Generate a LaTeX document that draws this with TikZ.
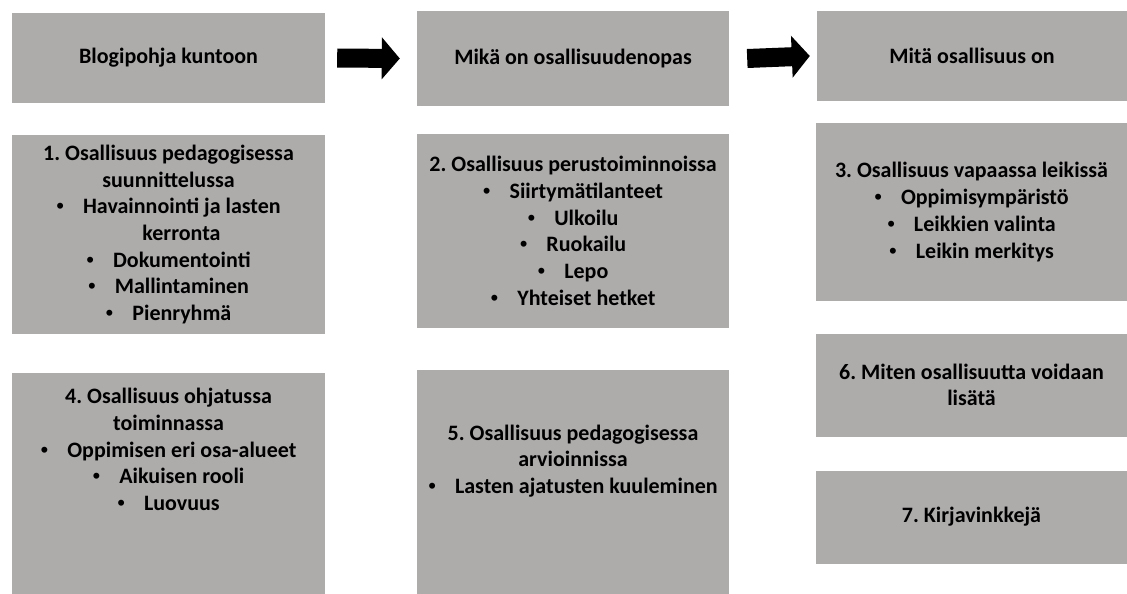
\documentclass[tikz,border=0pt]{standalone}
\usepackage{fontspec}
\setmainfont{Carlito}
\newfontfamily\bulletfont{Liberation Sans}
\usetikzlibrary{arrows.meta}
\definecolor{boxgray}{HTML}{AEABAB}
\frenchspacing
\begin{document}
\begin{tikzpicture}[x=1pt,y=-1pt,
  box/.style={fill=boxgray, draw=none, inner sep=0pt, align=center, text=black,
    font=\bfseries\fontsize{22}{26.7}\selectfont},
  txt/.style={inner sep=0pt, align=center, text=black,
    font=\bfseries\fontsize{22}{26.7}\selectfont},
  bigarrow/.style={draw=black, line width=19pt, -{Triangle[length=18pt,width=41pt]}}]
\useasboundingbox (0,0) rectangle (1127,594);
\newcommand{\bl}{{\bulletfont\mdseries •}\hspace{19pt}}
% top row
\node[box, minimum width=313pt, minimum height=90pt] (A) at (168.5,58) {Blogipohja kuntoon};
\node[box, minimum width=312pt, minimum height=95pt] (B) at (573,58.5) {Mikä on osallisuudenopas};
\node[box, minimum width=310pt, minimum height=90pt] (C) at (972,56) {Mitä osallisuus on};
% arrows
\draw[bigarrow] ([xshift=12pt]A.east) -- ([xshift=-17pt]B.west);
\draw[bigarrow] ([xshift=18pt]B.east) -- ([xshift=-7pt]C.west);
% second row
\node[box, minimum width=313pt, minimum height=199pt] (b1) at (168.5,234.5)
  {1. Osallisuus pedagogisessa\\ suunnittelussa\\ \bl Havainnointi ja lasten\\ \hspace*{26pt}kerronta\\
   \bl Dokumentointi\\ \bl Mallintaminen\\ \bl Pienryhmä};
\node[box, minimum width=312pt, minimum height=194pt] (b2) at (573,231)
  {2. Osallisuus perustoiminnoissa\\ \bl Siirtymätilanteet\\ \bl Ulkoilu\\ \bl Ruokailu\\ \bl Lepo\\ \bl Yhteiset hetket};
\node[box, minimum width=311pt, minimum height=178pt] (b3) at (971.5,212)
  {3. Osallisuus vapaassa leikissä\\ \bl Oppimisympäristö\\ \bl Leikkien valinta\\ \bl Leikin merkitys};
% third row
\node[box, minimum width=313pt, minimum height=221pt] (b4) at (168.5,483.5) {};
\node[txt] (t4) at (168.5,449.5)
  {4. Osallisuus ohjatussa\\ toiminnassa\\ \bl Oppimisen eri osa-alueet\\ \bl Aikuisen rooli\\ \bl Luovuus};
\node[box, minimum width=312pt, minimum height=224pt] (b5) at (573,482) {};
\node[txt] (t5) at (573,461)
  {5. Osallisuus pedagogisessa\\ arvioinnissa\\ \bl Lasten ajatusten kuuleminen};
\node[box, minimum width=311pt, minimum height=103pt] (b6) at (971.5,385)
  {6. Miten osallisuutta voidaan\\ lisätä};
\node[box, minimum width=311pt, minimum height=93pt] (b7) at (971.5,517)
  {7. Kirjavinkkejä};
\end{tikzpicture}
\end{document}
